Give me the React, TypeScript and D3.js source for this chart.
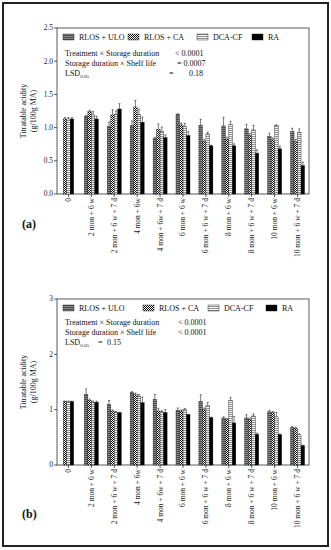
import React from 'react';
import * as d3 from 'd3';

const categories = [
  '0', '2 mon + 6 w', '2 mon + 6 w + 7 d', '4 mon + 6w', '4 mon + 6w + 7 d',
  '6 mon + 6 w', '6 mon + 6 w + 7 d', '8 mon + 6 w', '8 mon + 6 w + 7 d',
  '10 mon + 6 w', '10 mon + 6 w + 7 d',
];
const seriesNames = ['RLOS + ULO', 'RLOS + CA', 'DCA-CF', 'RA'];

// panel (a)
const uloA = [null, 1.165, 1.015, 1.03, 0.835, 1.2, 1.035, 1.025, 0.98, 0.865, 0.94];
const caA = [1.13, 1.24, 1.19, 1.31, 0.975, 1.04, 0.79, 0.825, 0.88, 0.815, 0.79];
const dcaA = [1.13, 1.19, 1.2, 1.2, 0.94, 1.015, 0.905, 1.045, 0.965, 1.03, 0.93];
const raA = [1.13, 1.13, 1.28, 1.08, 0.85, 0.88, 0.725, 0.725, 0.615, 0.68, 0.43];
const uloAErr = [0, 0.02, 0.07, 0.07, 0.02, 0.01, 0.09, 0.13, 0.07, 0.05, 0.05];
const caAErr = [0.02, 0.02, 0.08, 0.1, 0.08, 0.03, 0.03, 0.03, 0.03, 0.03, 0.03];
const dcaAErr = [0.02, 0.05, 0.05, 0.08, 0.07, 0.05, 0.025, 0.05, 0.07, 0.01, 0.05];
const raAErr = [0.02, 0.04, 0.08, 0.08, 0.04, 0.06, 0.01, 0.03, 0.05, 0.04, 0.05];
const ticksA = [0, 0.5, 1, 1.5, 2, 2.5];

// panel (b)
const uloB = [null, 1.275, 1.095, 1.305, 1.185, 0.99, 1.15, 0.85, 0.85, 0.96, 0.675];
const caB = [1.145, 1.17, 0.975, 1.27, 0.975, 0.975, 1.0, 0.82, 0.82, 0.945, 0.665];
const dcaB = [1.145, 1.125, 0.95, 1.245, 0.96, 1.0, 1.08, 1.17, 0.885, 0.87, 0.545];
const raB = [1.145, 1.135, 0.945, 1.125, 0.95, 0.91, 0.855, 0.76, 0.555, 0.55, 0.35];
const uloBErr = [0, 0.1, 0.07, 0.02, 0.09, 0.04, 0.12, 0.02, 0.06, 0.03, 0.02];
const caBErr = [0.01, 0.02, 0.02, 0.03, 0.05, 0.02, 0.03, 0.02, 0.03, 0.02, 0.02];
const dcaBErr = [0.01, 0.03, 0.02, 0.03, 0.02, 0.02, 0.05, 0.05, 0.04, 0.08, 0.02];
const raBErr = [0.01, 0.02, 0.01, 0.1, 0.05, 0.01, 0.01, 0.12, 0.02, 0.01, 0.01];
const ticksB = [0, 1, 2, 3];

const fills = ['url(#pUlo)', 'url(#pCa)', 'url(#pDca)', '#000'];
const font = '"Liberation Serif", "DejaVu Serif", serif';

type PanelProps = {
  top: number;
  values: (number | null)[][];
  errs: number[][];
  ticks: number[];
  fmt: (v: number) => string;
  legendX: number[];
  stats: { y: number; parts: { x: number; t: React.ReactNode }[] }[];
  tag: string;
  tagY: number;
};

const Panel = ({ top, values, errs, ticks, fmt, legendX, stats, tag, tagY }: PanelProps) => {
  const left = 57, right = 309, h = 166;
  const bottom = top + h;
  const x = d3.scaleBand().domain(categories).range([left, right]).padding(0);
  const y = d3.scaleLinear().domain([0, ticks[ticks.length - 1]]).range([bottom, top]);
  const barW = 3.5;

  return (
    <g fontFamily={font}>
      <rect x={left} y={top} width={right - left} height={h} fill="none" stroke="#333" strokeWidth={0.8} />
      {ticks.map(t => (
        <g key={t}>
          <line x1={left - 3} x2={left} y1={y(t)} y2={y(t)} stroke="#333" strokeWidth={0.8} />
          <text x={left - 4} y={y(t)} dy="0.33em" textAnchor="end" fontSize={7.5} fill="#222">{fmt(t)}</text>
        </g>
      ))}
      <text transform={`translate(26,${(top + bottom) / 2}) rotate(-90)`} textAnchor="middle" fontSize={8} fill="#222">Titratable acidity</text>
      <text transform={`translate(36,${(top + bottom) / 2}) rotate(-90)`} textAnchor="middle" fontSize={8} fill="#222">(g/100g MA)</text>

      {categories.map((c, i) => {
        const cx = (x(c) as number) + x.bandwidth() / 2;
        const present = seriesNames.map((_, s) => s).filter(s => values[s][i] != null);
        const inner = d3.scaleBand<number>().domain(present)
          .range([cx - (present.length * barW) / 2, cx + (present.length * barW) / 2]);
        return (
          <g key={c}>
            {present.map(s => {
              const v = values[s][i] as number;
              const bx = inner(s) as number;
              const ey = y(v + errs[s][i]);
              return (
                <g key={s}>
                  <rect x={bx} y={y(v)} width={barW} height={bottom - y(v)} fill={fills[s]} stroke="#111" strokeWidth={0.4} />
                  {errs[s][i] > 0 && (
                    <g stroke="#222" strokeWidth={0.6}>
                      <line x1={bx + barW / 2} x2={bx + barW / 2} y1={y(v)} y2={ey} />
                      <line x1={bx + barW / 2 - 1} x2={bx + barW / 2 + 1} y1={ey} y2={ey} />
                    </g>
                  )}
                </g>
              );
            })}
            <line x1={cx} x2={cx} y1={bottom} y2={bottom + 3} stroke="#333" strokeWidth={0.8} />
            <text transform={`translate(${cx},${bottom + 4}) rotate(-90)`} dy="0.33em" textAnchor="end" fontSize={7.5} fill="#222">{c}</text>
          </g>
        );
      })}

      {seriesNames.map((n, s) => (
        <g key={n}>
          <rect x={legendX[s]} y={top + 6} width={11} height={6} fill={fills[s]} stroke="#111" strokeWidth={0.4} />
          <text x={legendX[s] + 16} y={top + 11.5} fontSize={8} fill="#111">{n}</text>
        </g>
      ))}
      {stats.map((r, k) => (
        <g key={k}>
          {r.parts.map((p, j) => (
            <text key={j} x={p.x} y={r.y} fontSize={8} fill="#111">{p.t}</text>
          ))}
        </g>
      ))}
      <text x={22} y={tagY} fontSize={12} fontWeight="bold" fill="#111">{tag}</text>
    </g>
  );
};

const lsd = <>LSD<tspan fontSize={5} dy="2">0.05</tspan></>;

const App = () => (
  <svg width={331} height={550} style={{ position: 'fixed', left: 0, top: 0, background: '#fff' }}>
    <defs>
      <pattern id="pUlo" width={2} height={2} patternUnits="userSpaceOnUse">
        <rect width={2} height={2} fill="#4a4a4a" />
        <rect width={2} height={0.8} fill="#9a9a9a" />
      </pattern>
      <pattern id="pCa" width={2} height={2} patternUnits="userSpaceOnUse">
        <rect width={2} height={2} fill="#fff" />
        <rect width={1} height={1} fill="#111" />
        <rect x={1} y={1} width={1} height={1} fill="#111" />
      </pattern>
      <pattern id="pDca" width={2} height={2} patternUnits="userSpaceOnUse">
        <rect width={2} height={2} fill="#f4f4f4" />
        <rect width={2} height={0.8} fill="#777" />
      </pattern>
    </defs>
    <rect x={3} y={3} width={325} height={543} fill="none" stroke="#222" strokeWidth={2} />
    <Panel
      top={28}
      values={[uloA, caA, dcaA, raA]}
      errs={[uloAErr, caAErr, dcaAErr, raAErr]}
      ticks={ticksA}
      fmt={d3.format('.1f')}
      legendX={[63, 128, 197, 252]}
      stats={[
        { y: 56, parts: [{ x: 65, t: 'Treatment  × Storage duration' }, { x: 175, t: '< 0.0001' }] },
        { y: 66, parts: [{ x: 65, t: 'Storage duration × Shelf life' }, { x: 177, t: '= 0.0007' }] },
        { y: 76, parts: [{ x: 65, t: lsd }, { x: 169, t: '=' }, { x: 189, t: '0.18' }] },
      ]}
      tag="(a)"
      tagY={228}
    />
    <Panel
      top={299}
      values={[uloB, caB, dcaB, raB]}
      errs={[uloBErr, caBErr, dcaBErr, raBErr]}
      ticks={ticksB}
      fmt={d3.format('d')}
      legendX={[63, 143, 208, 266]}
      stats={[
        { y: 325, parts: [{ x: 65, t: 'Treatment × Storage duration' }, { x: 178, t: '< 0.0001' }] },
        { y: 335, parts: [{ x: 65, t: 'Storage duration × Shelf life' }, { x: 178, t: '< 0.0001' }] },
        { y: 345, parts: [{ x: 65, t: lsd }, { x: 98, t: '=' }, { x: 107, t: '0.15' }] },
      ]}
      tag="(b)"
      tagY={518}
    />
  </svg>
);

export default App;
